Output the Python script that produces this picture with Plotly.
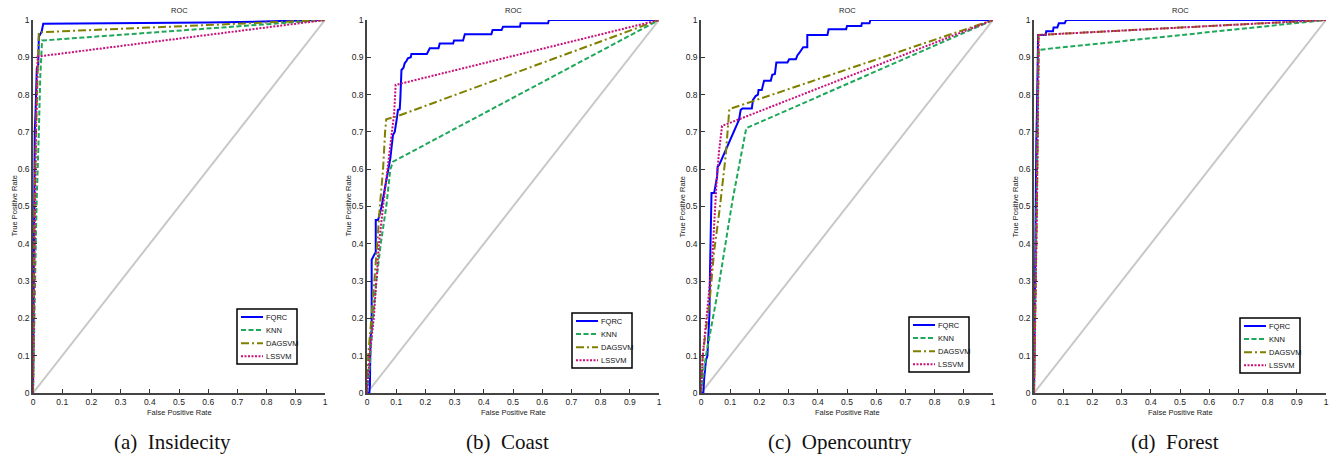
import plotly.graph_objects as go

# ---------------- data ----------------
methods = ["FQRC", "KNN", "DAGSVM", "LSSVM"]
captions = ["(a)\u00a0\u00a0Insidecity", "(b)\u00a0\u00a0Coast",
            "(c)\u00a0\u00a0Opencountry", "(d)\u00a0\u00a0Forest"]
tick_vals = [0, 0.1, 0.2, 0.3, 0.4, 0.5, 0.6, 0.7, 0.8, 0.9, 1]
tick_text = ["0", "0.1", "0.2", "0.3", "0.4", "0.5", "0.6", "0.7", "0.8", "0.9", "1"]
diag_x = [0, 1]
diag_y = [0, 1]

# (a) Insidecity
a_fqrc_fpr = [0, 0.002, 0.004, 0.006, 0.009, 0.012, 0.013, 0.018, 0.02, 0.027, 0.03, 0.035, 0.6, 0.85, 1]
a_fqrc_tpr = [0, 0.3, 0.62, 0.7, 0.76, 0.86, 0.87, 0.88, 0.955, 0.965, 0.97, 0.99, 0.993, 0.997, 1]
a_knn_fpr = [0, 0.005, 0.012, 0.02, 0.025, 0.031, 1]
a_knn_tpr = [0, 0.2, 0.5, 0.7, 0.85, 0.945, 1]
a_dag_fpr = [0, 0.005, 0.012, 0.016, 0.02, 1]
a_dag_tpr = [0, 0.5, 0.75, 0.9, 0.967, 1]
a_ls_fpr = [0, 0.005, 0.01, 0.016, 1]
a_ls_tpr = [0, 0.4, 0.7, 0.902, 1]

# (b) Coast
b_fqrc_fpr = [0, 0.008, 0.01, 0.012, 0.016, 0.016, 0.027, 0.03, 0.03, 0.038, 0.05, 0.06, 0.07, 0.08,
              0.083, 0.089, 0.095, 0.098, 0.102, 0.106, 0.112, 0.114, 0.116, 0.118, 0.125, 0.129, 0.135,
              0.14, 0.15, 0.152, 0.205, 0.21, 0.215, 0.245, 0.249, 0.295, 0.298, 0.329, 0.335, 0.426,
              0.43, 0.461, 0.466, 0.524, 0.526, 0.62, 0.623, 1]
b_fqrc_tpr = [0, 0, 0.02, 0.15, 0.17, 0.357, 0.374, 0.374, 0.464, 0.464, 0.5, 0.54, 0.58, 0.63,
              0.651, 0.692, 0.7, 0.723, 0.735, 0.759, 0.76, 0.786, 0.85, 0.866, 0.872, 0.884, 0.89,
              0.897, 0.9, 0.909, 0.909, 0.918, 0.924, 0.924, 0.937, 0.937, 0.945, 0.945, 0.962, 0.962,
              0.973, 0.973, 0.982, 0.982, 0.991, 0.991, 1.0, 1]
b_knn_fpr = [0, 0.01, 0.02, 0.032, 0.047, 0.066, 0.08, 0.089, 1]
b_knn_tpr = [0, 0.08, 0.2, 0.3, 0.4, 0.5, 0.6, 0.62, 1]
b_dag_fpr = [0, 0.004, 0.015, 0.026, 0.035, 0.044, 0.055, 0.062, 0.066, 0.1, 1]
b_dag_tpr = [0, 0.1, 0.2, 0.3, 0.4, 0.5, 0.6, 0.7, 0.734, 0.741, 1]
b_ls_fpr = [0, 0.009, 0.023, 0.032, 0.041, 0.055, 0.07, 0.086, 0.093, 0.098, 1]
b_ls_tpr = [0, 0.1, 0.2, 0.3, 0.4, 0.5, 0.6, 0.7, 0.75, 0.826, 1]

# (c) Opencountry
c_fqrc_fpr = [0, 0.008, 0.011, 0.017, 0.022, 0.026, 0.029, 0.031, 0.033, 0.035, 0.036, 0.045, 0.047,
              0.051, 0.055, 0.057, 0.062, 0.13, 0.136, 0.142, 0.174, 0.178, 0.187, 0.195, 0.197, 0.208,
              0.216, 0.239, 0.244, 0.253, 0.258, 0.296, 0.302, 0.325, 0.33, 0.336, 0.345, 0.35, 0.364,
              0.364, 0.433, 0.437, 0.497, 0.5, 0.549, 0.551, 0.577, 0.58, 1]
c_fqrc_tpr = [0, 0, 0.04, 0.088, 0.1, 0.16, 0.214, 0.335, 0.43, 0.51, 0.536, 0.536, 0.545,
              0.562, 0.58, 0.607, 0.611, 0.732, 0.759, 0.763, 0.763, 0.786, 0.796, 0.8, 0.812, 0.812,
              0.837, 0.837, 0.853, 0.855, 0.886, 0.886, 0.895, 0.895, 0.905, 0.911, 0.92, 0.927, 0.927,
              0.96, 0.96, 0.975, 0.975, 0.984, 0.984, 0.991, 0.991, 1.0, 1]
c_knn_fpr = [0, 0.017, 0.057, 0.108, 0.155, 1]
c_knn_tpr = [0, 0.1, 0.27, 0.517, 0.71, 1]
c_dag_fpr = [0, 0.006, 0.03, 0.045, 0.065, 0.085, 0.097, 1]
c_dag_tpr = [0, 0.1, 0.25, 0.38, 0.5, 0.64, 0.761, 1]
c_ls_fpr = [0, 0.006, 0.025, 0.04, 0.053, 0.062, 0.072, 1]
c_ls_tpr = [0, 0.1, 0.25, 0.38, 0.56, 0.65, 0.716, 1]

# (d) Forest
d_fqrc_fpr = [0, 0.005, 0.008, 0.01, 0.013, 0.014, 0.04, 0.042, 0.065, 0.067, 0.08, 0.085, 0.105, 0.11, 1]
d_fqrc_tpr = [0, 0.6, 0.68, 0.75, 0.95, 0.96, 0.96, 0.97, 0.97, 0.98, 0.98, 0.991, 0.991, 1.0, 1]
d_knn_fpr = [0, 0.01, 0.016, 1]
d_knn_tpr = [0, 0.5, 0.92, 1]
d_dag_fpr = [0, 0.01, 0.016, 1]
d_dag_tpr = [0, 0.5, 0.96, 1]
d_ls_fpr = [0, 0.01, 0.016, 1]
d_ls_tpr = [0, 0.5, 0.96, 1]

panels = [
    [(a_fqrc_fpr, a_fqrc_tpr), (a_knn_fpr, a_knn_tpr), (a_dag_fpr, a_dag_tpr), (a_ls_fpr, a_ls_tpr)],
    [(b_fqrc_fpr, b_fqrc_tpr), (b_knn_fpr, b_knn_tpr), (b_dag_fpr, b_dag_tpr), (b_ls_fpr, b_ls_tpr)],
    [(c_fqrc_fpr, c_fqrc_tpr), (c_knn_fpr, c_knn_tpr), (c_dag_fpr, c_dag_tpr), (c_ls_fpr, c_ls_tpr)],
    [(d_fqrc_fpr, d_fqrc_tpr), (d_knn_fpr, d_knn_tpr), (d_dag_fpr, d_dag_tpr), (d_ls_fpr, d_ls_tpr)],
]

# ---------------- style / layout (positions in page pixels) ----------------
FW, FH = 1332, 458                # figure size (page margin removed below)
panel_left = [33, 367, 701, 1034]
panel_w = 292
plot_top, plot_bottom = 20, 393
legend_box = [(237, 309), (572, 313), (909, 317), (1240, 318)]
legend_w, legend_h = 60, 55
caption_x = [172, 507, 840, 1175]

colors = ["#0000ff", "#1fa85a", "#808000", "#c8107a"]
dashes = ["solid", "5px,2.5px", "8px,3px,2px,3px", "2px,1.5px"]
sans = "Liberation Sans, Arial, sans-serif"
serif = "Liberation Serif, Times New Roman, serif"


def px(x):
    return x / FW


def py(y):
    return 1 - y / FH


fig = go.Figure()
annotations = []
shapes = []
for i, panel in enumerate(panels):
    sfx = "" if i == 0 else str(i + 1)
    xa, ya = "x" + sfx, "y" + sfx
    fig.add_trace(go.Scatter(x=diag_x, y=diag_y, mode="lines", xaxis=xa, yaxis=ya,
                             line=dict(color="#c8c8c8", width=2), showlegend=False,
                             hoverinfo="skip"))
    for j, (fx, ty) in enumerate(panel):
        fig.add_trace(go.Scatter(x=fx, y=ty, mode="lines", name=methods[j], xaxis=xa, yaxis=ya,
                                 showlegend=False,
                                 line=dict(color=colors[j], width=2, dash=dashes[j])))
    x0 = px(panel_left[i])
    x1 = px(panel_left[i] + panel_w)
    axis_common = dict(range=[0, 1], tickvals=tick_vals, ticktext=tick_text, ticks="inside",
                       ticklen=4, tickwidth=1, tickcolor="#333", showline=True, linecolor="#444",
                       linewidth=1.5, showgrid=False, zeroline=False, mirror=False,
                       tickfont=dict(family=sans, size=8.5, color="#222"), fixedrange=True,
                       automargin=False)
    fig.update_layout(**{
        "xaxis" + sfx: dict(domain=[x0, x1], anchor=ya, **axis_common),
        "yaxis" + sfx: dict(domain=[py(plot_bottom), py(plot_top)], anchor=xa, **axis_common),
    })
    cx = (panel_left[i] + panel_w / 2)
    annotations.append(dict(text="ROC", x=px(cx), y=py(10), xref="paper", yref="paper",
                            showarrow=False, xanchor="center", yanchor="middle",
                            font=dict(family=sans, size=7.5, color="#222")))
    annotations.append(dict(text="False Positive Rate", x=px(cx), y=py(412), xref="paper",
                            yref="paper", showarrow=False, xanchor="center", yanchor="middle",
                            font=dict(family=sans, size=7.5, color="#222")))
    annotations.append(dict(text="True Positive Rate", x=px(panel_left[i] - 19),
                            y=py((plot_top + plot_bottom) / 2), xref="paper", yref="paper",
                            showarrow=False, textangle=-90, xanchor="center", yanchor="middle",
                            font=dict(family=sans, size=7.5, color="#222")))
    annotations.append(dict(text=captions[i], x=px(caption_x[i]), y=py(442), xref="paper",
                            yref="paper", showarrow=False, xanchor="center", yanchor="middle",
                            font=dict(family=serif, size=21, color="#111")))

    # legend box for this panel
    lx, ly = legend_box[i]
    shapes.append(dict(type="rect", xref="paper", yref="paper", layer="above",
                       x0=px(lx), x1=px(lx + legend_w), y0=py(ly), y1=py(ly + legend_h),
                       fillcolor="white", line=dict(color="black", width=1.5)))
    for j, name in enumerate(methods):
        ey = ly + 8 + j * 13.1
        shapes.append(dict(type="line", xref="paper", yref="paper", layer="above",
                           x0=px(lx + 4), x1=px(lx + 26), y0=py(ey), y1=py(ey),
                           line=dict(color=colors[j], width=2, dash=dashes[j])))
        annotations.append(dict(text=name, x=px(lx + 27), y=py(ey), xref="paper", yref="paper",
                                showarrow=False, xanchor="left", yanchor="middle",
                                font=dict(family=sans, size=7.5, color="#111")))

fig.update_layout(width=FW, height=FH, margin=dict(l=0, r=0, t=0, b=0),
                  paper_bgcolor="white", plot_bgcolor="white", annotations=annotations,
                  shapes=shapes, showlegend=False)

fig.write_html("out.html", config={"displayModeBar": False},
               post_script="document.body.style.margin='0';document.body.style.overflow='hidden';")
